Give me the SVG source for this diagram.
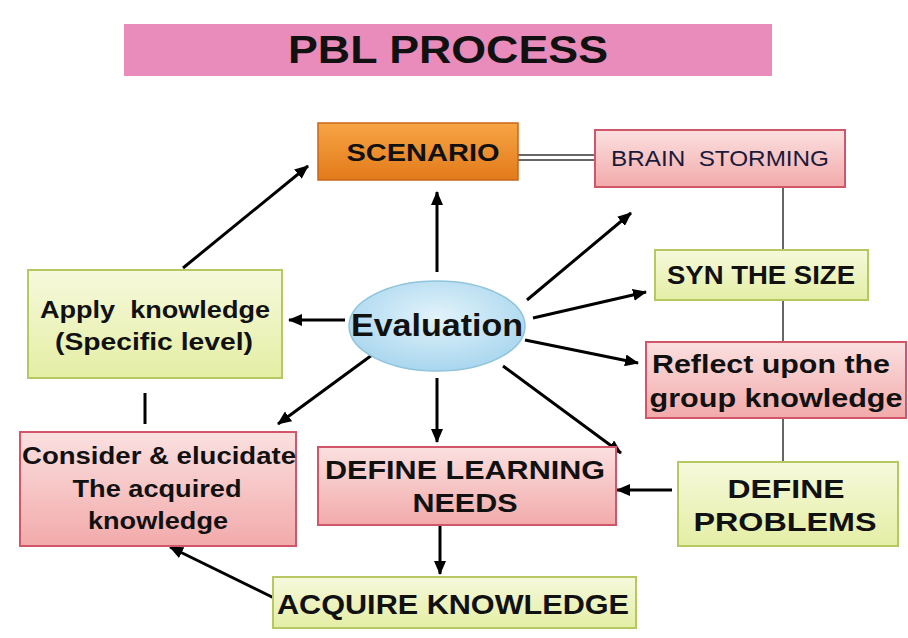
<svg xmlns="http://www.w3.org/2000/svg" width="908" height="638" viewBox="0 0 908 638">
<defs>
<linearGradient id="gY" x1="0" y1="0" x2="0" y2="1"><stop offset="0" stop-color="#f6f9dc"/><stop offset="1" stop-color="#e4eea4"/></linearGradient>
<linearGradient id="gP" x1="0" y1="0" x2="0" y2="1"><stop offset="0" stop-color="#fbe0e0"/><stop offset="1" stop-color="#f2aaaa"/></linearGradient>
<linearGradient id="gO" x1="0" y1="0" x2="0" y2="1"><stop offset="0" stop-color="#f7a545"/><stop offset="1" stop-color="#e27a1a"/></linearGradient>
<radialGradient id="gB" cx="0.5" cy="0.4" r="0.6"><stop offset="0" stop-color="#e2f3fb"/><stop offset="1" stop-color="#a9d6ee"/></radialGradient>
<marker id="ah" markerUnits="userSpaceOnUse" markerWidth="14" markerHeight="12" refX="13" refY="6" orient="auto"><path d="M0,0 L14,6 L0,12 Z" fill="#000"/></marker>
<style>
.y{fill:url(#gY);stroke:#b7c862;stroke-width:2}
.p{fill:url(#gP);stroke:#d2566a;stroke-width:2}
.t{font-family:"Liberation Sans",Arial,sans-serif;font-weight:bold;fill:#111;text-anchor:middle}
.pre{white-space:pre}
.c line{stroke:#000;stroke-width:3}
.c .thin{stroke:#333;stroke-width:1.5}
</style>
</defs>
<rect width="908" height="638" fill="#fff"/>
<g id="title">
<rect x="124" y="24" width="648" height="52" fill="#ea8cbb"/>
<text class="t" x="448" y="63" font-size="38" textLength="320" lengthAdjust="spacingAndGlyphs">PBL PROCESS</text>
</g>
<g class="c" id="connectors">
<line class="thin" x1="518" y1="155" x2="595" y2="155"/>
<line class="thin" x1="518" y1="160" x2="595" y2="160"/>
<line class="thin" x1="783" y1="187" x2="783" y2="250"/>
<line class="thin" x1="783" y1="300" x2="783" y2="342"/>
<line class="thin" x1="783" y1="418" x2="783" y2="462"/>
<line x1="145" y1="393" x2="145" y2="424" stroke-width="2.5"/>
<line x1="183" y1="268" x2="308" y2="166" marker-end="url(#ah)"/>
<line x1="437" y1="272" x2="437" y2="192" marker-end="url(#ah)"/>
<line x1="345" y1="320" x2="289" y2="320" marker-end="url(#ah)"/>
<line x1="437" y1="378" x2="437" y2="442" marker-end="url(#ah)"/>
<line x1="372" y1="355" x2="278" y2="424" marker-end="url(#ah)"/>
<line x1="527" y1="300" x2="631" y2="213" marker-end="url(#ah)"/>
<line x1="533" y1="318" x2="646" y2="292" marker-end="url(#ah)"/>
<line x1="525" y1="340" x2="638" y2="363" marker-end="url(#ah)"/>
<line x1="503" y1="366" x2="621" y2="453" marker-end="url(#ah)"/>
<line x1="672" y1="490" x2="617" y2="490" stroke-width="4" marker-end="url(#ah)"/>
<line x1="440" y1="525" x2="440" y2="574" marker-end="url(#ah)"/>
<line x1="274" y1="598" x2="170" y2="547" marker-end="url(#ah)"/>
</g>
<g id="scenario">
<rect x="318" y="123" width="200" height="57" fill="url(#gO)" stroke="#c8661a" stroke-width="1.5"/>
<text class="t" x="423" y="161" font-size="24" textLength="153" lengthAdjust="spacingAndGlyphs">SCENARIO</text>
</g>
<g id="brainstorming">
<rect class="p" x="595" y="130" width="250" height="57"/>
<text class="t pre" x="720" y="166" font-size="22" style="font-weight:normal;fill:#1a1a3a" textLength="218" lengthAdjust="spacingAndGlyphs">BRAIN  STORMING</text>
</g>
<g id="synthesize">
<rect class="y" x="655" y="250" width="213" height="50"/>
<text class="t" x="761" y="284" font-size="25" textLength="188" lengthAdjust="spacingAndGlyphs">SYN THE SIZE</text>
</g>
<g id="reflect">
<rect class="p" x="646" y="342" width="260" height="76"/>
<text class="t" x="771" y="373" font-size="26" textLength="238" lengthAdjust="spacingAndGlyphs">Reflect upon the</text>
<text class="t" x="776" y="407" font-size="26" textLength="253" lengthAdjust="spacingAndGlyphs">group knowledge</text>
</g>
<g id="defineproblems">
<rect class="y" x="678" y="462" width="220" height="84"/>
<text class="t" x="786" y="498" font-size="25" textLength="117" lengthAdjust="spacingAndGlyphs">DEFINE</text>
<text class="t" x="785" y="531" font-size="25" textLength="183" lengthAdjust="spacingAndGlyphs">PROBLEMS</text>
</g>
<g id="definelearning">
<rect class="p" x="318" y="447" width="298" height="78"/>
<text class="t" x="465" y="479" font-size="25" textLength="280" lengthAdjust="spacingAndGlyphs">DEFINE LEARNING</text>
<text class="t" x="465" y="512" font-size="25" textLength="105" lengthAdjust="spacingAndGlyphs">NEEDS</text>
</g>
<g id="acquire">
<rect class="y" x="273" y="577" width="363" height="51"/>
<text class="t" x="453" y="614" font-size="27" textLength="352" lengthAdjust="spacingAndGlyphs">ACQUIRE KNOWLEDGE</text>
</g>
<g id="consider">
<rect class="p" x="20" y="432" width="276" height="114"/>
<text class="t" x="159" y="464" font-size="23" textLength="274" lengthAdjust="spacingAndGlyphs">Consider &amp; elucidate</text>
<text class="t" x="157" y="497" font-size="23" textLength="169" lengthAdjust="spacingAndGlyphs">The acquired</text>
<text class="t" x="158" y="529" font-size="23" textLength="140" lengthAdjust="spacingAndGlyphs">knowledge</text>
</g>
<g id="apply">
<rect class="y" x="28" y="270" width="254" height="108"/>
<text class="t pre" x="155" y="318" font-size="23" textLength="230" lengthAdjust="spacingAndGlyphs">Apply  knowledge</text>
<text class="t" x="154" y="350" font-size="23" textLength="198" lengthAdjust="spacingAndGlyphs">(Specific level)</text>
</g>
<g id="evaluation">
<ellipse cx="437" cy="326" rx="88" ry="45" fill="url(#gB)" stroke="#8fc4dc" stroke-width="1.5"/>
<text class="t" x="437" y="336" font-size="32" textLength="172" lengthAdjust="spacingAndGlyphs">Evaluation</text>
</g>
</svg>
